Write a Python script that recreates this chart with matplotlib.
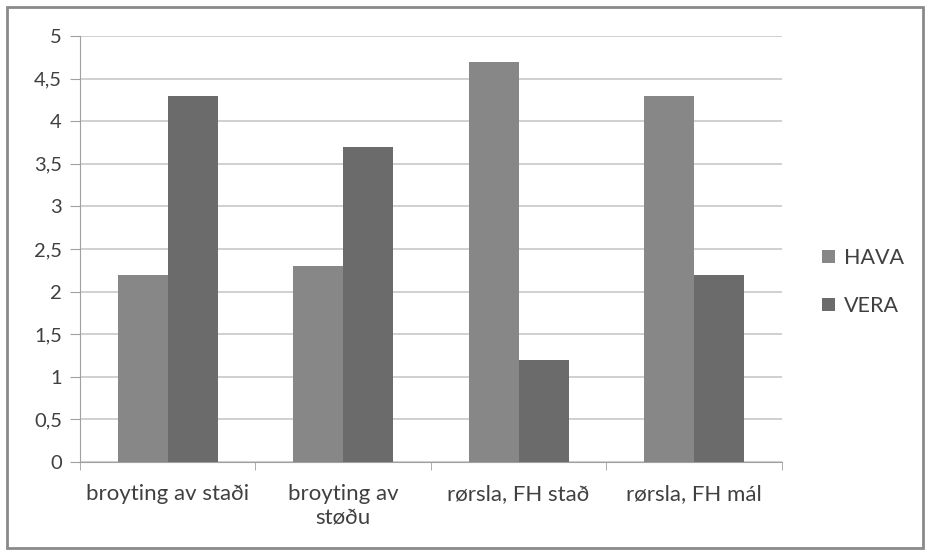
import numpy as np
import matplotlib.pyplot as plt
from matplotlib.patches import Rectangle

# data
categories = ['broyting av staði', 'broyting av\nstøðu', 'rørsla, FH stað', 'rørsla, FH mál']
hava = [2.2, 2.3, 4.7, 4.3]
vera = [4.3, 3.7, 1.2, 2.2]
yticks = [0, 0.5, 1, 1.5, 2, 2.5, 3, 3.5, 4, 4.5, 5]

plt.rcParams['font.family'] = ['Lato', 'DejaVu Sans']

fig = plt.figure(figsize=(9.25, 5.5), dpi=100)
ax = fig.add_axes([0.0865, 0.16, 0.7585, 0.7745])

x = np.arange(len(categories))
w = 0.285
ax.bar(x - w / 2, hava, w, color='#878787', label='HAVA', zorder=3)
ax.bar(x + w / 2, vera, w, color='#6b6b6b', label='VERA', zorder=3)

ax.set_xlim(-0.5, len(categories) - 0.5)
ax.set_ylim(0, 5)
ax.set_yticks(yticks)
ax.set_yticklabels([f'{v:g}'.replace('.', ',') for v in yticks], fontsize=14.5, color='#404040')

# category labels centred, ticks on the boundaries
ax.set_xticks(x)
ax.set_xticklabels(categories, fontsize=16, color='#404040', linespacing=1.2)
ax.tick_params(axis='x', length=0, pad=16)
ax.set_xticks(np.arange(len(categories) + 1) - 0.5, minor=True)
ax.tick_params(axis='x', which='minor', length=6, color='#a0a0a0')
ax.tick_params(axis='y', length=7, color='#a0a0a0', pad=6)

ax.grid(axis='y', color='#c8c8c8', linewidth=1.2, zorder=0)
for side in ['top', 'right']:
    ax.spines[side].set_visible(False)
for side in ['left', 'bottom']:
    ax.spines[side].set_color('#a0a0a0')

fig.legend(loc='center left', bbox_to_anchor=(0.868, 0.487), frameon=False,
           fontsize=15.5, handlelength=0.6, handleheight=0.6, handletextpad=0.4,
           labelspacing=1.3, labelcolor='#404040')

# outer frame
fig.patches.append(Rectangle((0.008, 0.004), 0.99, 0.984, transform=fig.transFigure,
                             fill=False, edgecolor='#8a8a8a', linewidth=2))

fig.savefig('out.png', dpi=100)
